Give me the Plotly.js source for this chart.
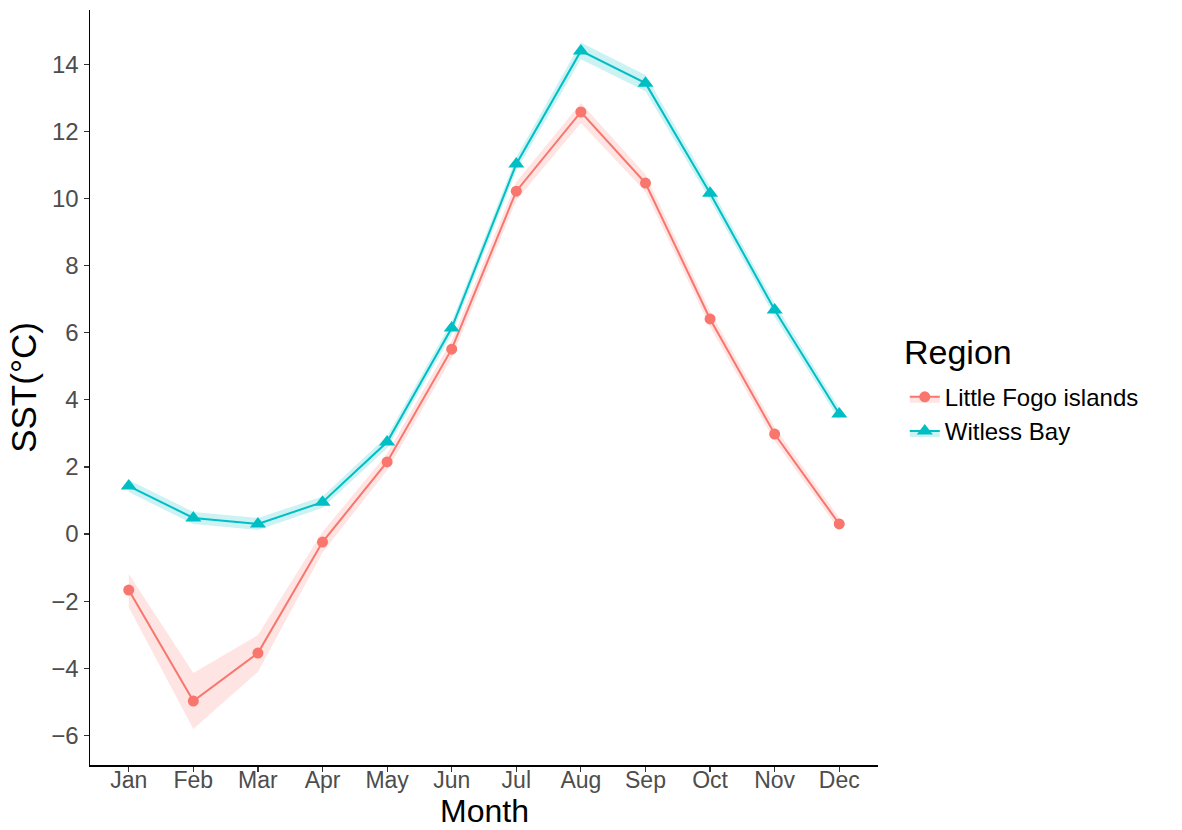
<!DOCTYPE html>
<html>
<head>
<meta charset="utf-8">
<script src="https://cdn.plot.ly/plotly-3.0.1.min.js"></script>
<style>html,body{margin:0;padding:0;background:#fff;}#chart{width:1182px;height:830px;}</style>
</head>
<body>
<div id="chart"></div>
<script>
const months = ["Jan","Feb","Mar","Apr","May","Jun","Jul","Aug","Sep","Oct","Nov","Dec"];
const monthNum = [1,2,3,4,5,6,7,8,9,10,11,12];

const fogoMean  = [-1.67, -4.98, -3.55, -0.24, 2.15, 5.51, 10.22, 12.58, 10.46, 6.41, 2.98, 0.30];
const fogoLower = [-2.18, -5.81, -4.11, -0.55, 1.90, 5.25, 9.95, 12.25, 10.20, 6.18, 2.78, 0.12];
const fogoUpper = [-1.19, -4.14, -3.01, 0.06, 2.40, 5.77, 10.49, 12.85, 10.72, 6.64, 3.18, 0.48];

const witMean  = [1.43, 0.48, 0.30, 0.95, 2.74, 6.14, 11.03, 14.40, 13.44, 10.16, 6.68, 3.58];
const witLower = [1.25, 0.30, 0.12, 0.78, 2.56, 5.95, 10.83, 14.15, 13.20, 9.96, 6.48, 3.40];
const witUpper = [1.61, 0.66, 0.48, 1.12, 2.92, 6.33, 11.23, 14.65, 13.68, 10.36, 6.88, 3.76];

const red = "#F8766D", teal = "#00BFC4";
const redFill = "rgba(248,118,109,0.2)", tealFill = "rgba(0,191,196,0.2)";

function group(name, mean, lower, upper, color, fill, symbol, size) {
  return [
    {x: monthNum, y: lower, type: "scatter", mode: "lines", line: {width: 0, color: color},
     showlegend: false, hoverinfo: "skip", legendgroup: name},
    {x: monthNum, y: mean, type: "scatter", mode: "lines+markers", name: name, legendgroup: name,
     fill: "tonexty", fillcolor: fill,
     line: {color: color, width: 2}, marker: {color: color, symbol: symbol, size: size}},
    {x: monthNum, y: upper, type: "scatter", mode: "lines", line: {width: 0, color: color},
     fill: "tonexty", fillcolor: fill, showlegend: false, hoverinfo: "skip", legendgroup: name}
  ];
}

const data = [].concat(
  group("Little Fogo islands", fogoMean, fogoLower, fogoUpper, red, redFill, "circle", 11),
  group("Witless Bay", witMean, witLower, witUpper, teal, tealFill, "triangle-up", 14)
);

const layout = {
  width: 1182, height: 830,
  margin: {l: 90, r: 304, t: 10, b: 65},
  paper_bgcolor: "#fff", plot_bgcolor: "#fff",
  font: {family: "Liberation Sans, Arial, sans-serif", color: "#000"},
  xaxis: {
    range: [0.4, 12.6], tickvals: monthNum, ticktext: months,
    showgrid: false, zeroline: false, showline: true, linecolor: "#000", linewidth: 1.5,
    ticks: "outside", ticklen: 5, tickcolor: "#333", tickwidth: 1.2,
    ticklabelstandoff: -11,
    tickfont: {size: 23, color: "#4D4D4D"}
  },
  yaxis: {
    range: [-6.885, 15.62], tickvals: [-6,-4,-2,0,2,4,6,8,10,12,14],
    ticktext: ["\u22126","\u22124","\u22122","0","2","4","6","8","10","12","14"],
    showgrid: false, zeroline: false, showline: true, linecolor: "#000", linewidth: 1.5,
    ticks: "outside", ticklen: 5, tickcolor: "#333", tickwidth: 1.2,
    tickfont: {size: 24, color: "#4D4D4D"},
    title: {text: "SST(\u00B0C)", font: {size: 35, color: "#000"}, standoff: 4}
  },
  legend: {
    x: 1.034, xanchor: "left", y: 0.517, yanchor: "top",
    font: {size: 24, color: "#000"}, itemwidth: 30, tracegroupgap: 0,
    bgcolor: "rgba(0,0,0,0)"
  },
  annotations: [{
    text: "Region", xref: "paper", yref: "paper", x: 1.03, y: (765 - 352) / 755,
    xanchor: "left", yanchor: "middle", showarrow: false,
    font: {size: 34, color: "#000"}
  }, {
    text: "Month", xref: "paper", yref: "paper", x: 0.5, y: (765 - 811) / 755,
    xanchor: "center", yanchor: "middle", showarrow: false,
    font: {size: 32, color: "#000"}
  }],
  showlegend: true
};

Plotly.newPlot("chart", data, layout, {displayModeBar: false, staticPlot: true});
</script>
</body>
</html>
